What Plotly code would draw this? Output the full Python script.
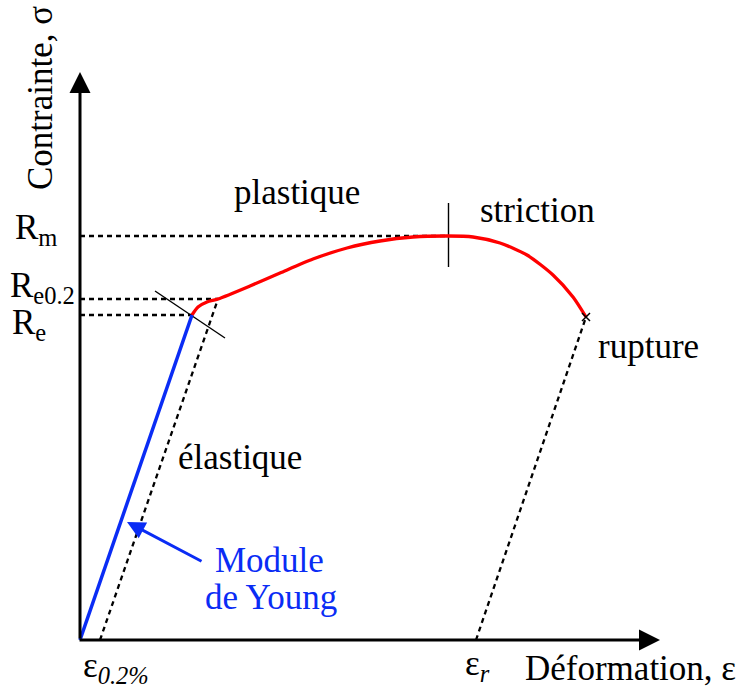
import plotly.graph_objects as go

# Data in "strain / stress" schematic units (origin at 0,0)
young_eps = [0, 112]
young_sig = [0, 325]

curve_eps = [112, 118, 127, 138, 170, 200, 233, 267, 300, 333, 368, 393, 420, 447, 473, 493, 506]
curve_sig = [325, 333, 338, 341, 354, 367, 381, 392, 399, 403, 404, 403, 397, 385, 365, 343, 323]

offset_eps = [20, 138]
offset_sig = [0, 341]

unload_eps = [396, 506]
unload_sig = [0, 323]

Rm_sig, Re02_sig, Re_sig = 404, 341, 325
Rm_eps, Re02_eps, Re_eps = 368, 138, 112
rupture = (506, 323)

tangent_eps = [75, 145]
tangent_sig = [349, 302]
neck_eps = [368.5, 368.5]
neck_sig = [437, 373]

FONT = "Liberation Serif, Tinos, 'Times New Roman', Times, serif"
FS = 35

fig = go.Figure()

dash = dict(color="black", width=2.3, dash="5px,4px")
fig.add_trace(go.Scatter(x=[0, Rm_eps], y=[Rm_sig, Rm_sig], mode="lines", line=dash))
fig.add_trace(go.Scatter(x=[0, Re02_eps], y=[Re02_sig, Re02_sig], mode="lines", line=dash))
fig.add_trace(go.Scatter(x=[0, Re_eps], y=[Re_sig, Re_sig], mode="lines", line=dash))
fig.add_trace(go.Scatter(x=offset_eps, y=offset_sig, mode="lines", line=dash))
fig.add_trace(go.Scatter(x=unload_eps, y=unload_sig, mode="lines", line=dash))

fig.add_trace(go.Scatter(x=tangent_eps, y=tangent_sig, mode="lines", line=dict(color="black", width=1.4)))
fig.add_trace(go.Scatter(x=neck_eps, y=neck_sig, mode="lines", line=dict(color="black", width=1.4)))

fig.add_trace(go.Scatter(x=curve_eps, y=curve_sig, mode="lines",
                         line=dict(color="#ff0000", width=3.3, shape="spline", smoothing=0.7)))
fig.add_trace(go.Scatter(x=young_eps, y=young_sig, mode="lines", line=dict(color="#0a2cf5", width=3.5)))
fig.add_trace(go.Scatter(x=[rupture[0]], y=[rupture[1]], mode="markers",
                         marker=dict(symbol="x-thin", size=8, line=dict(color="black", width=1.5))))

annots = []
# axes arrows
annots.append(dict(x=0, y=568, ax=0, ay=0, xref="x", yref="y", axref="x", ayref="y", text="",
                   showarrow=True, arrowhead=2, arrowsize=1.4, arrowwidth=3, arrowcolor="black"))
annots.append(dict(x=580, y=0, ax=-2, ay=0, xref="x", yref="y", axref="x", ayref="y", text="",
                   showarrow=True, arrowhead=2, arrowsize=1.4, arrowwidth=3, arrowcolor="black"))
# Young arrow
annots.append(dict(x=47, y=118, ax=123, ay=78, xref="x", yref="y", axref="x", ayref="y", text="",
                   showarrow=True, arrowhead=2, arrowsize=1.2, arrowwidth=3, arrowcolor="#0a2cf5"))

def txt(x, y, t, color="black", size=FS, **kw):
    d = dict(x=x - 80, y=640 - y, xref="x", yref="y", text=t, showarrow=False,
             font=dict(family=FONT, size=size, color=color), xanchor="center", yanchor="middle")
    d.update(kw)
    annots.append(d)

txt(297, 192, "plastique")
txt(537, 210, "striction")
txt(36, 229, "R<sub>m</sub>")
txt(42, 287, "R<sub>e0.2</sub>")
txt(29, 324, "R<sub>e</sub>")
txt(648, 346, "rupture")
txt(240, 457, "élastique")
txt(269, 560, "Module", color="#0a2cf5")
txt(271, 597, "de Young", color="#0a2cf5")
txt(116, 667, "ε<sub><i>0.2%</i></sub>")
txt(477, 665, "ε<sub><i>r</i></sub>")
txt(630, 668, "Déformation, ε")
txt(40, 98, "Contrainte, σ", textangle=-90)

fig.update_layout(
    width=741, height=691, margin=dict(l=0, r=0, t=0, b=0),
    paper_bgcolor="white", plot_bgcolor="white", showlegend=False,
    font=dict(family=FONT, size=FS),
    xaxis=dict(range=[-80, 661], visible=False, fixedrange=True),
    yaxis=dict(range=[-51, 640], visible=False, fixedrange=True),
    annotations=annots,
)
fig.write_html("out.html", config={"displayModeBar": False},
               post_script="document.body.style.margin='0';document.body.style.overflow='hidden';")
